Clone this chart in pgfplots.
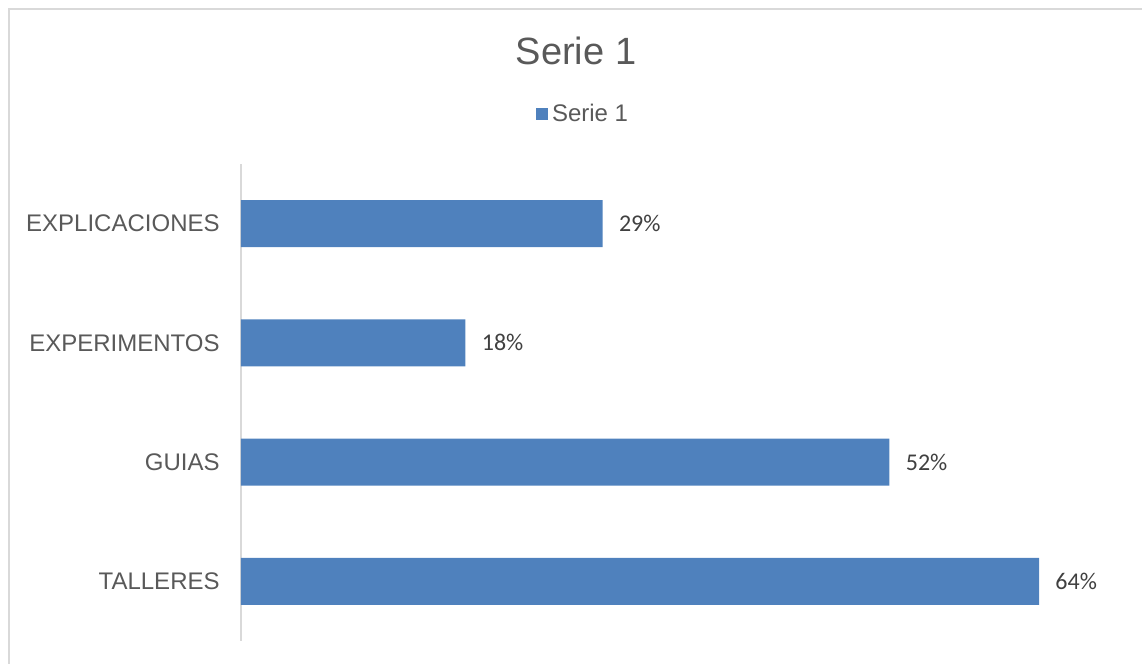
\documentclass[border=0pt]{standalone}
\usepackage{fontspec}
\setmainfont{Liberation Sans}
\newfontfamily\calibri{Carlito}
\usepackage{pgfplots}
\usepackage{pgfplotstable}
\pgfplotsset{compat=1.18}
\definecolor{barblue}{HTML}{4F81BD}
\definecolor{framegray}{HTML}{D9D9D9}
\definecolor{textgray}{HTML}{595959}
\definecolor{labelgray}{HTML}{404040}
\pgfplotstableread{
y x label
0 64 64\%
1 52 52\%
2 18 18\%
3 29 29\%
}\datatable
\begin{document}
\begin{tikzpicture}
\path[use as bounding box] (0,0) rectangle (571pt,332pt);
\draw[framegray, line width=0.75pt] (4.5pt,-1pt) -- (4.5pt,327.5pt) -- (572pt,327.5pt);
\node[text=textgray, font=\fontsize{19}{23}\selectfont] at (288pt,306.5pt) {Serie 1};
\begin{axis}[
  at={(120.5pt,11.5pt)}, anchor=south west,
  scale only axis, width=436.45pt, height=238.5pt,
  xbar, bar width=23.5pt,
  xmin=0, xmax=70, ymin=-0.5, ymax=3.5,
  axis x line=none,
  axis y line=left,
  y axis line style={draw=framegray, line width=0.75pt, -},
  ytick={0,1,2,3},
  yticklabels={TALLERES,GUIAS,EXPERIMENTOS,EXPLICACIONES},
  major tick length=0pt,
  yticklabel style={text=textgray, font=\fontsize{12}{14}\selectfont, inner sep=0pt, xshift=-10.5pt},
  point meta=explicit symbolic,
  nodes near coords,
  nodes near coords style={text=labelgray, font=\calibri\fontsize{12}{14}\selectfont, anchor=west, inner sep=0pt, xshift=8pt},
  legend style={at={(0.393,1.105)}, anchor=center, draw=none, fill=none, text=textgray, font=\fontsize{12}{14}\selectfont, inner sep=0pt},
  legend image code/.code={\fill[barblue] (0pt,-3pt) rectangle (6pt,3pt);},
  legend cell align=left,
]
\addplot[fill=barblue, draw=none] table[x=x, y=y, meta=label] {\datatable};
\addlegendentry{Serie 1}
\end{axis}
\end{tikzpicture}
\end{document}
